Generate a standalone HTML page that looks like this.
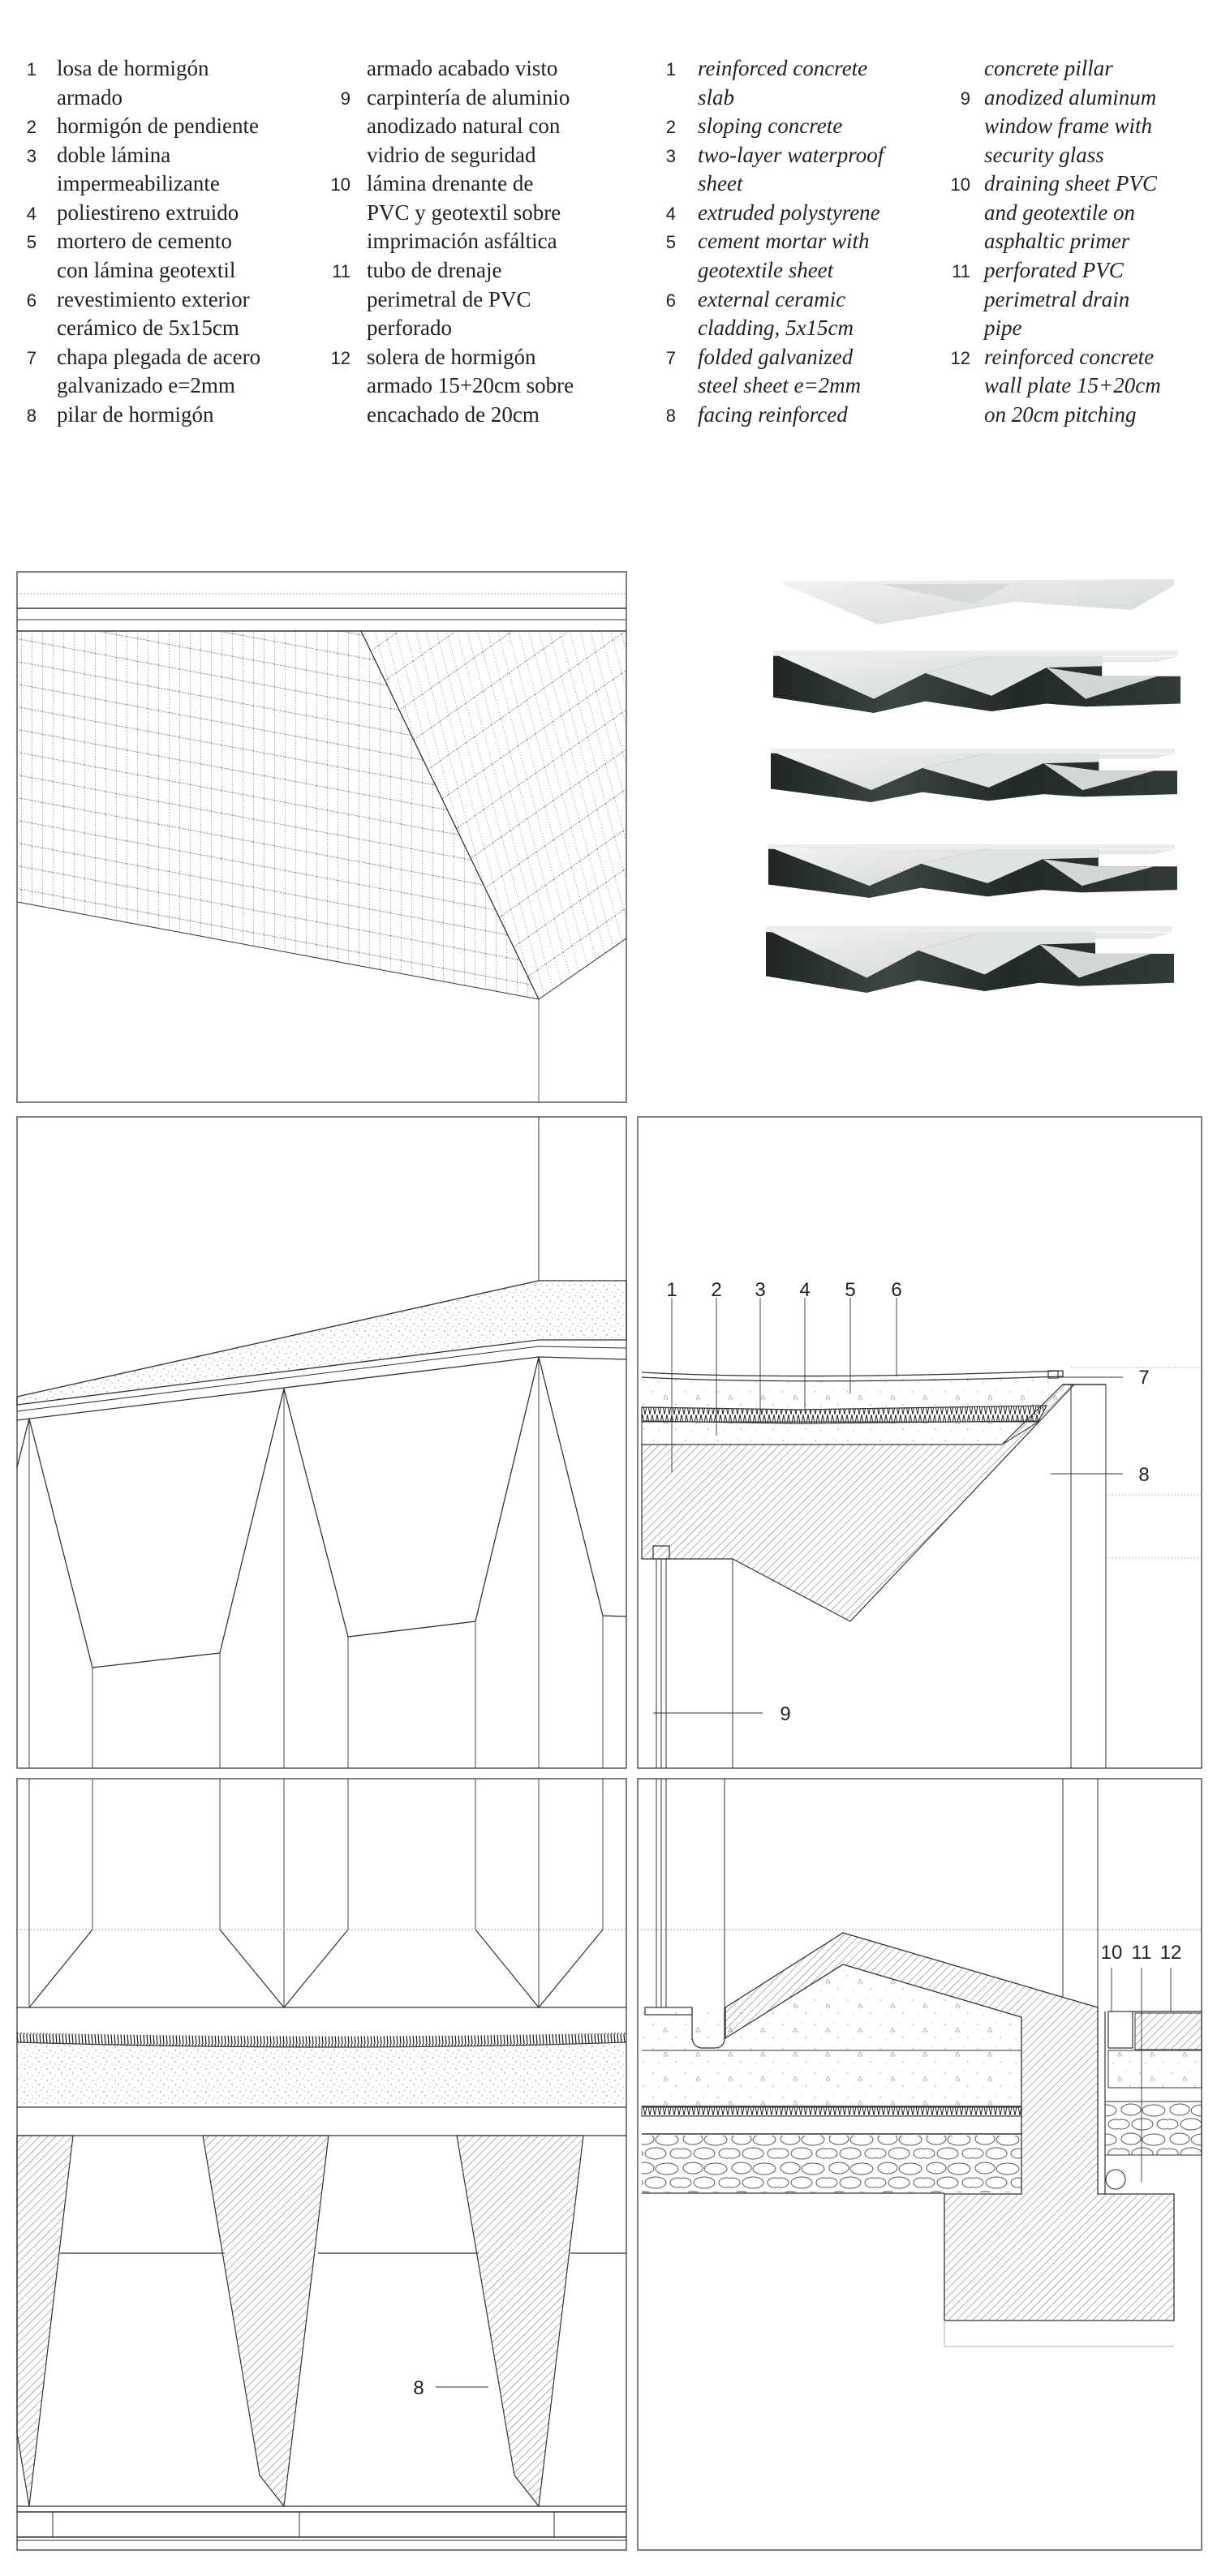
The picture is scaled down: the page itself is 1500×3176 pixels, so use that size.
<!DOCTYPE html>
<html><head><meta charset="utf-8"><style>
html,body{margin:0;padding:0;background:#fff;}
svg{display:block;}
.t{font-family:"Liberation Serif",serif;font-size:27px;fill:#222;}
.i{font-style:italic;}
.n{font-family:"Liberation Sans",sans-serif;font-size:22px;fill:#222;}
.l{font-family:"Liberation Sans",sans-serif;font-size:24px;fill:#222;}
</style></head><body>
<svg width="1500" height="3176" viewBox="0 0 1500 3176" xmlns="http://www.w3.org/2000/svg">
<defs>
<pattern id="hatch" width="7" height="7" patternUnits="userSpaceOnUse" patternTransform="rotate(45)"><line x1="0" y1="0" x2="0" y2="7" stroke="#555" stroke-width="0.9"/></pattern>
<pattern id="dots" width="14" height="14" patternUnits="userSpaceOnUse"><circle cx="2" cy="3" r="0.7" fill="#777"/><circle cx="9" cy="1" r="0.6" fill="#888"/><circle cx="6" cy="8" r="0.7" fill="#777"/><circle cx="12" cy="11" r="0.6" fill="#888"/><circle cx="3" cy="12" r="0.5" fill="#999"/></pattern>
<pattern id="conc" width="40" height="30" patternUnits="userSpaceOnUse"><circle cx="5" cy="6" r="0.7" fill="#888"/><path d="M20 10 l3 5 l-5 0z" fill="none" stroke="#888" stroke-width="0.6"/><circle cx="33" cy="22" r="0.7" fill="#888"/><circle cx="12" cy="24" r="0.6" fill="#999"/><circle cx="28" cy="4" r="0.5" fill="#999"/></pattern>
<pattern id="stones" width="60" height="36" patternUnits="userSpaceOnUse"><ellipse cx="14" cy="9" rx="12" ry="7" fill="none" stroke="#555" stroke-width="1"/><ellipse cx="42" cy="10" rx="14" ry="7" fill="none" stroke="#555" stroke-width="1"/><ellipse cx="28" cy="27" rx="13" ry="7" fill="none" stroke="#555" stroke-width="1"/><ellipse cx="2" cy="27" rx="10" ry="6" fill="none" stroke="#555" stroke-width="1"/><ellipse cx="55" cy="27" rx="9" ry="6" fill="none" stroke="#555" stroke-width="1"/></pattern>
<pattern id="tilesA" width="13" height="28" patternUnits="userSpaceOnUse" patternTransform="skewY(10.6)"><line x1="0.5" y1="0" x2="0.5" y2="28" stroke="#999" stroke-width="0.8" stroke-dasharray="1.5 2"/><line x1="0" y1="27.5" x2="13" y2="27.5" stroke="#888" stroke-width="0.9" stroke-dasharray="2 1.5"/></pattern>
<pattern id="tilesB" width="13" height="40" patternUnits="userSpaceOnUse" patternTransform="rotate(-35) skewX(-20)"><line x1="0.5" y1="0" x2="0.5" y2="40" stroke="#999" stroke-width="0.8" stroke-dasharray="1.5 2"/><line x1="0" y1="39.5" x2="13" y2="39.5" stroke="#888" stroke-width="0.9" stroke-dasharray="2 1.5"/></pattern>
<pattern id="zig" width="6" height="16" patternUnits="userSpaceOnUse"><path d="M0 0 L3 16 L6 0" fill="none" stroke="#222" stroke-width="1"/></pattern>
<pattern id="hair" width="4" height="12" patternUnits="userSpaceOnUse"><line x1="1" y1="0" x2="2" y2="12" stroke="#222" stroke-width="1.3"/></pattern>
<linearGradient id="wg" x1="0" y1="0" x2="1" y2="1"><stop offset="0" stop-color="#f2f3f2"/><stop offset="1" stop-color="#d2d7d4"/></linearGradient>
<linearGradient id="dg" x1="0" y1="0" x2="1" y2="0"><stop offset="0" stop-color="#1e2522"/><stop offset="0.3" stop-color="#3c4642"/><stop offset="0.6" stop-color="#222a27"/><stop offset="1" stop-color="#303a36"/></linearGradient>
<symbol id="model" viewBox="0 0 500 80" preserveAspectRatio="none">
<polygon points="0,5 402,5 402,33 498,33 498,68 382,72 334,68 267,78 186,65 123,80 0,60" fill="url(#dg)"/>
<polygon points="5,6 270,6 186,29 123,62" fill="url(#wg)"/>
<polygon points="186,29 270,6 402,6 402,20 334,22 267,58" fill="#dfe3e1"/>
<polygon points="334,22 402,33 470,33 382,62" fill="#d3d8d5"/>
<rect x="0" y="0" width="495" height="7" fill="#eceeed"/>
<polygon points="402,8 493,8 470,15 402,15" fill="#e6e9e7"/>
</symbol>
</defs>

<!-- Legend -->
<g class="n" text-anchor="end">
<text x="45" y="93">1</text><text x="45" y="164">2</text><text x="45" y="200">3</text><text x="45" y="271">4</text><text x="45" y="306">5</text><text x="45" y="378">6</text><text x="45" y="449">7</text><text x="45" y="520">8</text>
<text x="432" y="129">9</text><text x="432" y="235">10</text><text x="432" y="342">11</text><text x="432" y="449">12</text>
<text x="833" y="93">1</text><text x="833" y="164">2</text><text x="833" y="200">3</text><text x="833" y="271">4</text><text x="833" y="306">5</text><text x="833" y="378">6</text><text x="833" y="449">7</text><text x="833" y="520">8</text>
<text x="1196" y="129">9</text><text x="1196" y="235">10</text><text x="1196" y="342">11</text><text x="1196" y="449">12</text>
</g>
<g class="t">
<text x="70" y="93">losa de hormigón</text><text x="70" y="129">armado</text><text x="70" y="164">hormigón de pendiente</text><text x="70" y="200">doble lámina</text><text x="70" y="235">impermeabilizante</text><text x="70" y="271">poliestireno extruido</text><text x="70" y="306">mortero de cemento</text><text x="70" y="342">con lámina geotextil</text><text x="70" y="378">revestimiento exterior</text><text x="70" y="413">cerámico de 5x15cm</text><text x="70" y="449">chapa plegada de acero</text><text x="70" y="484">galvanizado e=2mm</text><text x="70" y="520">pilar de hormigón</text>
<text x="452" y="93">armado acabado visto</text><text x="452" y="129">carpintería de aluminio</text><text x="452" y="164">anodizado natural con</text><text x="452" y="200">vidrio de seguridad</text><text x="452" y="235">lámina drenante de</text><text x="452" y="271">PVC y geotextil sobre</text><text x="452" y="306">imprimación asfáltica</text><text x="452" y="342">tubo de drenaje</text><text x="452" y="378">perimetral de PVC</text><text x="452" y="413">perforado</text><text x="452" y="449">solera de hormigón</text><text x="452" y="484">armado 15+20cm sobre</text><text x="452" y="520">encachado de 20cm</text>
</g>
<g class="t i">
<text x="860" y="93">reinforced concrete</text><text x="860" y="129">slab</text><text x="860" y="164">sloping concrete</text><text x="860" y="200">two-layer waterproof</text><text x="860" y="235">sheet</text><text x="860" y="271">extruded polystyrene</text><text x="860" y="306">cement mortar with</text><text x="860" y="342">geotextile sheet</text><text x="860" y="378">external ceramic</text><text x="860" y="413">cladding, 5x15cm</text><text x="860" y="449">folded galvanized</text><text x="860" y="484">steel sheet e=2mm</text><text x="860" y="520">facing reinforced</text>
<text x="1213" y="93">concrete pillar</text><text x="1213" y="129">anodized aluminum</text><text x="1213" y="164">window frame with</text><text x="1213" y="200">security glass</text><text x="1213" y="235">draining sheet PVC</text><text x="1213" y="271">and geotextile on</text><text x="1213" y="306">asphaltic primer</text><text x="1213" y="342">perforated PVC</text><text x="1213" y="378">perimetral drain</text><text x="1213" y="413">pipe</text><text x="1213" y="449">reinforced concrete</text><text x="1213" y="484">wall plate 15+20cm</text><text x="1213" y="520">on 20cm pitching</text>
</g>

<!-- Panel 1: plan -->
<g fill="none" stroke="#333" stroke-width="1">
<rect x="21" y="705" width="751" height="654" stroke="#555" stroke-width="1.5"/>
<line x1="21" y1="732" x2="772" y2="732" stroke="#aaa" stroke-dasharray="2 2"/>
<line x1="21" y1="750" x2="772" y2="750" stroke-width="1.4"/>
<line x1="21" y1="764" x2="772" y2="764"/>
<line x1="21" y1="778" x2="772" y2="778" stroke-width="1.4"/>
<polygon points="21,779 445,779 664,1232 21,1112" fill="url(#tilesA)" stroke="none"/>
<polygon points="445,779 772,779 772,1157 664,1232" fill="url(#tilesB)" stroke="none"/>
<polyline points="21,1112 664,1232 772,1157"/>
<line x1="445" y1="778" x2="664" y2="1232" stroke-width="1.3"/>
<line x1="664" y1="1232" x2="664" y2="1359" stroke-width="0.8"/>
</g>

<!-- Photos -->
<polygon points="958,717 1447,714 1447,722 1395,752 1250,742 1082,770" fill="url(#wg)"/>
<polygon points="1085,720 1245,720 1200,745" fill="#d6dbd8"/>
<use href="#model" x="953" y="802" width="504" height="77"/>
<use href="#model" x="950" y="923" width="503" height="66"/>
<use href="#model" x="947" y="1041" width="506" height="66"/>
<use href="#model" x="944" y="1142" width="505" height="82"/>

<!-- Row 2 left -->
<g fill="none" stroke="#333" stroke-width="1">
<rect x="21" y="1377" width="751" height="803" stroke="#555" stroke-width="1.5"/>
<line x1="664" y1="1377" x2="664" y2="1579"/>
<polygon points="21,1722 664,1579 772,1579 772,1652 664,1652 21,1732" fill="url(#dots)" stroke-width="1.3"/>
<polyline points="21,1740 664,1660 772,1662"/>
<polyline points="21,1751 664,1673 772,1676" stroke-width="1.3"/>
<polyline points="21,1809 36,1749 114,2056 271,2038 350,1712 429,2018 586,1999 664,1673 743,1992 772,1993" stroke-width="1.3"/>
<g stroke-width="0.9">
<line x1="36" y1="1749" x2="36" y2="2180"/><line x1="114" y1="2056" x2="114" y2="2180"/><line x1="271" y1="2038" x2="271" y2="2180"/><line x1="350" y1="1712" x2="350" y2="2180"/><line x1="429" y1="2018" x2="429" y2="2180"/><line x1="586" y1="1999" x2="586" y2="2180"/><line x1="664" y1="1673" x2="664" y2="2180"/><line x1="743" y1="1992" x2="743" y2="2180"/>
</g>
</g>

<!-- Row 2 right -->
<g fill="none" stroke="#333" stroke-width="1">
<rect x="786" y="1377" width="695" height="803" stroke="#555" stroke-width="1.5"/>
<line x1="1320" y1="1686" x2="1481" y2="1686" stroke="#bbb" stroke-dasharray="2 2"/>
<line x1="1363" y1="1843" x2="1481" y2="1843" stroke="#bbb" stroke-dasharray="2 2"/>
<line x1="1363" y1="1921" x2="1481" y2="1921" stroke="#bbb" stroke-dasharray="2 2"/>
<polygon points="791,1698 985,1702 1310,1698 1304,1735 985,1737 791,1735" fill="url(#conc)" stroke="none"/>
<path d="M791 1692 Q985 1702 1310 1690 L1310 1697 Q985 1708 791 1698" stroke-width="1.3"/>
<polygon points="791,1735 985,1738 1290,1733 1280,1752 985,1755 791,1752" fill="url(#zig)" stroke-width="1.2"/>
<polygon points="791,1753 1280,1753 1235,1781 791,1781" fill="url(#conc)" stroke-width="1"/>
<polygon points="791,1781 1235,1781 1310,1707 1324,1707 1048,1999 903,1922 791,1922" fill="url(#hatch)" stroke-width="1.2"/>
<line x1="1310" y1="1707" x2="1363" y2="1707" stroke-width="1.5"/>
<rect x="1292" y="1690" width="12" height="9" stroke-width="1.2"/>
<line x1="1320" y1="1707" x2="1320" y2="2180"/>
<line x1="1363" y1="1707" x2="1363" y2="2180"/>
<line x1="903" y1="1922" x2="903" y2="2180"/>
<rect x="805" y="1906" width="20" height="16" stroke-width="1.2"/>
<line x1="809" y1="1922" x2="809" y2="2180"/><line x1="815" y1="1922" x2="815" y2="2180"/><line x1="821" y1="1922" x2="821" y2="2180"/>
<g stroke-width="0.9">
<line x1="828" y1="1600" x2="828" y2="1815"/><line x1="883" y1="1600" x2="883" y2="1770"/><line x1="937" y1="1600" x2="937" y2="1745"/><line x1="992" y1="1600" x2="992" y2="1742"/><line x1="1048" y1="1600" x2="1048" y2="1718"/><line x1="1105" y1="1600" x2="1105" y2="1697"/>
<line x1="1304" y1="1698" x2="1384" y2="1698"/><line x1="1295" y1="1817" x2="1384" y2="1817"/><line x1="805" y1="2112" x2="940" y2="2112"/>
</g>
</g>
<g class="l" text-anchor="middle">
<text x="828" y="1598">1</text><text x="883" y="1598">2</text><text x="937" y="1598">3</text><text x="992" y="1598">4</text><text x="1048" y="1598">5</text><text x="1105" y="1598">6</text>
<text x="1410" y="1706">7</text><text x="1410" y="1826">8</text><text x="968" y="2121">9</text>
</g>

<!-- Row 3 left -->
<g fill="none" stroke="#333" stroke-width="1">
<rect x="21" y="2193" width="751" height="951" stroke="#555" stroke-width="1.5"/>
<g stroke-width="0.9">
<line x1="36" y1="2193" x2="36" y2="2475"/><line x1="114" y1="2193" x2="114" y2="2379"/><line x1="271" y1="2193" x2="271" y2="2379"/><line x1="350" y1="2193" x2="350" y2="2475"/><line x1="429" y1="2193" x2="429" y2="2379"/><line x1="586" y1="2193" x2="586" y2="2379"/><line x1="664" y1="2193" x2="664" y2="2475"/><line x1="743" y1="2193" x2="743" y2="2379"/>
</g>
<line x1="21" y1="2379" x2="772" y2="2379" stroke="#aaa" stroke-dasharray="2 2"/>
<polyline points="114,2379 36,2475" stroke-width="1.2"/>
<polyline points="271,2379 350,2475 429,2379" stroke-width="1.2"/>
<polyline points="586,2379 664,2475 743,2379" stroke-width="1.2"/>
<line x1="21" y1="2475" x2="772" y2="2475" stroke-width="1.2"/>
<path d="M21 2506 Q420 2515 772 2506 L772 2518 Q420 2530 21 2518 Z" fill="url(#hair)" stroke="none"/>
<path d="M21 2518 Q420 2530 772 2518 L772 2595 L21 2595 Z" fill="url(#dots)" stroke="none"/>
<path d="M21 2518 Q420 2530 772 2518" stroke-width="1.2"/>
<line x1="21" y1="2598" x2="772" y2="2598" stroke-width="1.2"/>
<line x1="21" y1="2633" x2="772" y2="2633" stroke-width="1.2"/>
<polygon points="21,2633 90,2633 36,3090 21,3000" fill="url(#hatch)" stroke-width="1.2"/>
<polygon points="250,2633 405,2633 350,3090 320,3052" fill="url(#hatch)" stroke-width="1.2"/>
<polygon points="563,2633 719,2633 664,3090 634,3052" fill="url(#hatch)" stroke-width="1.2"/>
<line x1="74" y1="2778" x2="277" y2="2778" stroke-width="1.2"/><line x1="392" y1="2778" x2="590" y2="2778" stroke-width="1.2"/><line x1="703" y1="2778" x2="772" y2="2778" stroke-width="1.2"/>
<line x1="21" y1="3090" x2="772" y2="3090" stroke-width="1.2"/>
<line x1="21" y1="3097" x2="772" y2="3097" stroke-width="1.5"/>
<line x1="21" y1="3128" x2="772" y2="3128" stroke-width="1.5"/>
<line x1="21" y1="3132" x2="772" y2="3132"/>
<line x1="65" y1="3097" x2="65" y2="3128"/><line x1="369" y1="3097" x2="369" y2="3128"/><line x1="683" y1="3097" x2="683" y2="3128"/>
<line x1="537" y1="2943" x2="602" y2="2943"/>
</g>
<text class="l" x="516" y="2952" text-anchor="middle">8</text>

<!-- Row 3 right -->
<g fill="none" stroke="#333" stroke-width="1">
<rect x="786" y="2193" width="695" height="951" stroke="#555" stroke-width="1.5"/>
<line x1="786" y1="2379" x2="1481" y2="2379" stroke="#aaa" stroke-dasharray="2 2"/>
<line x1="809" y1="2193" x2="809" y2="2475"/><line x1="815" y1="2193" x2="815" y2="2475"/><line x1="821" y1="2193" x2="821" y2="2475"/>
<line x1="893" y1="2193" x2="893" y2="2475"/>
<line x1="1310" y1="2193" x2="1310" y2="2462"/><line x1="1353" y1="2193" x2="1353" y2="2475"/>
<rect x="791" y="2480" width="468" height="117" fill="url(#conc)" stroke="none"/>
<polygon points="894,2513 1039,2422 1259,2487 1259,2480 894,2480" fill="url(#conc)" stroke="none"/>
<line x1="791" y1="2528" x2="1259" y2="2528"/>
<line x1="791" y1="2597" x2="1259" y2="2597" stroke-width="1.5"/>
<rect x="791" y="2598" width="468" height="11" fill="url(#zig)"/>
<line x1="791" y1="2631" x2="1259" y2="2631" stroke-width="1.5"/>
<rect x="791" y="2633" width="468" height="70" fill="url(#stones)" stroke="none"/>
<line x1="791" y1="2704" x2="1164" y2="2704" stroke-width="1.2"/>
<polygon points="894,2475 1039,2383 1353,2475 1353,2705 1447,2705 1447,2861 1164,2861 1164,2705 1259,2705 1259,2487 1039,2422 894,2513" fill="url(#hatch)" stroke-width="1.3"/>
<rect x="795" y="2475" width="58" height="9" stroke-width="1.2"/>
<path d="M853 2475 L853 2513 Q855 2525 866 2525 L880 2525 Q893 2525 893 2513 L893 2475" stroke-width="1.2"/>
<polyline points="1164,2861 1164,2893 1447,2893" stroke="#aaa"/>
<rect x="1366" y="2480" width="30" height="45" stroke-width="1.2"/>
<line x1="1396" y1="2480" x2="1481" y2="2480" stroke-width="1.2"/>
<rect x="1399" y="2482" width="82" height="45" fill="url(#hatch)"/>
<rect x="1366" y="2528" width="115" height="46" fill="url(#conc)" stroke-width="1"/>
<rect x="1362" y="2591" width="119" height="66" fill="url(#stones)" stroke-width="1"/>
<line x1="1362" y1="2480" x2="1362" y2="2705" stroke-width="1.2"/>
<circle cx="1375" cy="2687" r="12" stroke-width="1.1"/>
<g stroke-width="0.9"><line x1="1370" y1="2426" x2="1370" y2="2480"/><line x1="1407" y1="2426" x2="1407" y2="2690"/><line x1="1443" y1="2426" x2="1443" y2="2480"/></g>
</g>
<g class="l" text-anchor="middle"><text x="1370" y="2415">10</text><text x="1407" y="2415">11</text><text x="1443" y="2415">12</text></g>
</svg>
</body></html>
